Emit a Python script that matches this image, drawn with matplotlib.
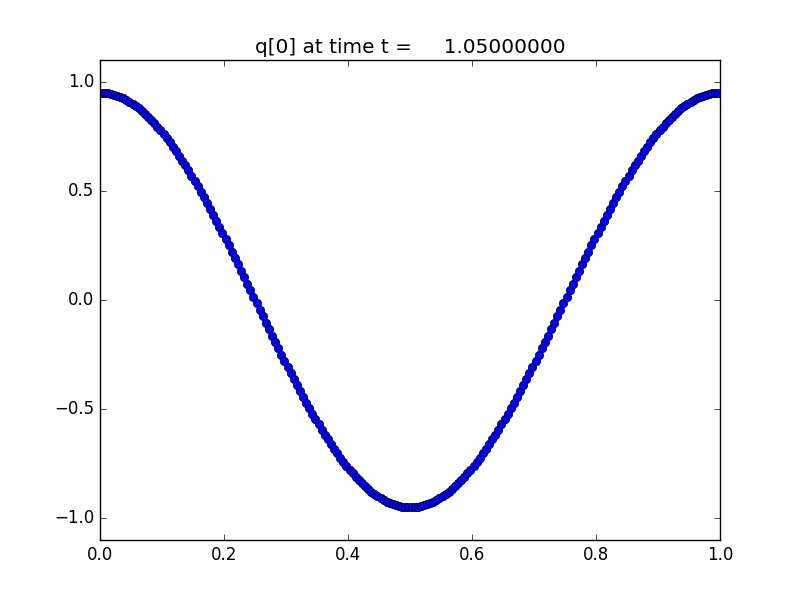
import matplotlib
matplotlib.use("Agg")
import matplotlib.pyplot as plt

plt.style.use("classic")

title_text = "q[0] at time t =     1.05000000"

x_centers = [
    0.0025, 0.0075, 0.0125, 0.0175, 0.0225, 0.0275, 0.0325, 0.0375, 0.0425, 0.0475,
    0.0525, 0.0575, 0.0625, 0.0675, 0.0725, 0.0775, 0.0825, 0.0875, 0.0925, 0.0975,
    0.1025, 0.1075, 0.1125, 0.1175, 0.1225, 0.1275, 0.1325, 0.1375, 0.1425, 0.1475,
    0.1525, 0.1575, 0.1625, 0.1675, 0.1725, 0.1775, 0.1825, 0.1875, 0.1925, 0.1975,
    0.2025, 0.2075, 0.2125, 0.2175, 0.2225, 0.2275, 0.2325, 0.2375, 0.2425, 0.2475,
    0.2525, 0.2575, 0.2625, 0.2675, 0.2725, 0.2775, 0.2825, 0.2875, 0.2925, 0.2975,
    0.3025, 0.3075, 0.3125, 0.3175, 0.3225, 0.3275, 0.3325, 0.3375, 0.3425, 0.3475,
    0.3525, 0.3575, 0.3625, 0.3675, 0.3725, 0.3775, 0.3825, 0.3875, 0.3925, 0.3975,
    0.4025, 0.4075, 0.4125, 0.4175, 0.4225, 0.4275, 0.4325, 0.4375, 0.4425, 0.4475,
    0.4525, 0.4575, 0.4625, 0.4675, 0.4725, 0.4775, 0.4825, 0.4875, 0.4925, 0.4975,
    0.5025, 0.5075, 0.5125, 0.5175, 0.5225, 0.5275, 0.5325, 0.5375, 0.5425, 0.5475,
    0.5525, 0.5575, 0.5625, 0.5675, 0.5725, 0.5775, 0.5825, 0.5875, 0.5925, 0.5975,
    0.6025, 0.6075, 0.6125, 0.6175, 0.6225, 0.6275, 0.6325, 0.6375, 0.6425, 0.6475,
    0.6525, 0.6575, 0.6625, 0.6675, 0.6725, 0.6775, 0.6825, 0.6875, 0.6925, 0.6975,
    0.7025, 0.7075, 0.7125, 0.7175, 0.7225, 0.7275, 0.7325, 0.7375, 0.7425, 0.7475,
    0.7525, 0.7575, 0.7625, 0.7675, 0.7725, 0.7775, 0.7825, 0.7875, 0.7925, 0.7975,
    0.8025, 0.8075, 0.8125, 0.8175, 0.8225, 0.8275, 0.8325, 0.8375, 0.8425, 0.8475,
    0.8525, 0.8575, 0.8625, 0.8675, 0.8725, 0.8775, 0.8825, 0.8875, 0.8925, 0.8975,
    0.9025, 0.9075, 0.9125, 0.9175, 0.9225, 0.9275, 0.9325, 0.9375, 0.9425, 0.9475,
    0.9525, 0.9575, 0.9625, 0.9675, 0.9725, 0.9775, 0.9825, 0.9875, 0.9925, 0.9975,
]

q0_values = [
    0.950, 0.949, 0.947, 0.944, 0.941, 0.936, 0.930, 0.924, 0.916, 0.908,
    0.899, 0.889, 0.878, 0.866, 0.853, 0.840, 0.825, 0.810, 0.794, 0.777,
    0.760, 0.741, 0.722, 0.703, 0.682, 0.661, 0.639, 0.617, 0.594, 0.570,
    0.546, 0.522, 0.496, 0.471, 0.445, 0.418, 0.391, 0.364, 0.336, 0.308,
    0.279, 0.251, 0.222, 0.193, 0.163, 0.134, 0.104, 0.075, 0.045, 0.015,
    -0.015, -0.045, -0.075, -0.104, -0.134, -0.163, -0.193, -0.222, -0.251, -0.279,
    -0.308, -0.336, -0.364, -0.391, -0.418, -0.445, -0.471, -0.496, -0.522, -0.546,
    -0.570, -0.594, -0.617, -0.639, -0.661, -0.682, -0.703, -0.722, -0.741, -0.760,
    -0.777, -0.794, -0.810, -0.825, -0.840, -0.853, -0.866, -0.878, -0.889, -0.899,
    -0.908, -0.916, -0.924, -0.930, -0.936, -0.941, -0.944, -0.947, -0.949, -0.950,
    -0.950, -0.949, -0.947, -0.944, -0.941, -0.936, -0.930, -0.924, -0.916, -0.908,
    -0.899, -0.889, -0.878, -0.866, -0.853, -0.840, -0.825, -0.810, -0.794, -0.777,
    -0.760, -0.741, -0.722, -0.703, -0.682, -0.661, -0.639, -0.617, -0.594, -0.570,
    -0.546, -0.522, -0.496, -0.471, -0.445, -0.418, -0.391, -0.364, -0.336, -0.308,
    -0.279, -0.251, -0.222, -0.193, -0.163, -0.134, -0.104, -0.075, -0.045, -0.015,
    0.015, 0.045, 0.075, 0.104, 0.134, 0.163, 0.193, 0.222, 0.251, 0.279,
    0.308, 0.336, 0.364, 0.391, 0.418, 0.445, 0.471, 0.496, 0.522, 0.546,
    0.570, 0.594, 0.617, 0.639, 0.661, 0.682, 0.703, 0.722, 0.741, 0.760,
    0.777, 0.794, 0.810, 0.825, 0.840, 0.853, 0.866, 0.878, 0.889, 0.899,
    0.908, 0.916, 0.924, 0.930, 0.936, 0.941, 0.944, 0.947, 0.949, 0.950,
]

x_ticks = [0.0, 0.2, 0.4, 0.6, 0.8, 1.0]
y_ticks = [-1.0, -0.5, 0.0, 0.5, 1.0]

fig = plt.figure(figsize=(8, 6), dpi=100)
fig.patch.set_facecolor("white")
ax = fig.add_axes([0.125, 0.1, 0.775, 0.8])
ax.plot(x_centers, q0_values, "bo", markersize=6, markeredgecolor="k")
ax.set_xlim(0.0, 1.0)
ax.set_ylim(-1.1, 1.1)
ax.set_xticks(x_ticks)
ax.set_yticks(y_ticks)
ax.set_title(title_text)
fig.savefig("out.png", dpi=100, facecolor="white")
